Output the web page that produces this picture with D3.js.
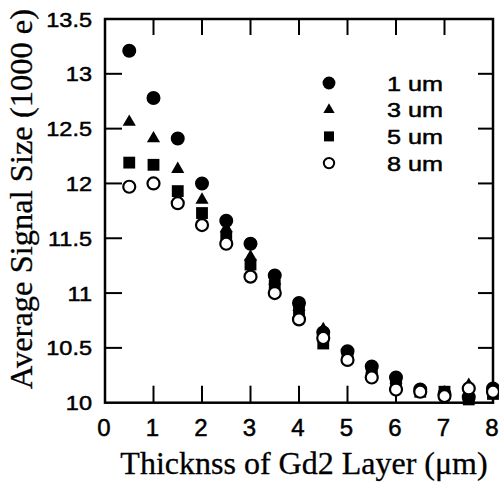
<!DOCTYPE html>
<html><head><meta charset="utf-8">
<script src="https://cdn.jsdelivr.net/npm/d3@7"></script>
<style>body{margin:0;background:#fff}svg{display:block}</style>
</head><body>
<script>
const thickness = [0.5,1,1.5,2,2.5,3,3.5,4,4.5,5,5.5,6,6.5,7,7.5,8];
const s1um = [13.21,12.78,12.41,12.00,11.66,11.45,11.16,10.91,10.64,10.47,10.33,10.23,10.12,10.08,10.05,10.13];
const s3um = [12.56,12.41,12.13,11.85,11.59,11.33,11.11,10.87,10.67,10.44,10.30,10.21,10.11,10.09,10.16,10.11];
const s5um = [12.19,12.17,11.93,11.73,11.51,11.26,11.07,10.84,10.54,10.42,10.28,10.17,10.10,10.10,10.03,10.08];
const s8um = [11.97,12.00,11.82,11.62,11.45,11.15,11.00,10.76,10.59,10.39,10.23,10.12,10.10,10.06,10.13,10.10];
const seriesNames = ["1 um","3 um","5 um","8 um"];
const xTicks = [0,1,2,3,4,5,6,7,8];
const yTicks = [10,10.5,11,11.5,12,12.5,13,13.5];
const yTickLabels = ["10","10.5","11","11.5","12","12.5","13","13.5"];

const W=499,H=483;
const svg=d3.select("body").append("svg").attr("width",W).attr("height",H);
const x=d3.scaleLinear().domain([0,8]).range([105,493]);
const y=d3.scaleLinear().domain([10,13.5]).range([402.7,19]);

const series=[
  {name:seriesNames[0],vals:s1um,type:d3.symbolCircle,size:154,lsize:130,fill:"#000",stroke:"none"},
  {name:seriesNames[1],vals:s3um,type:d3.symbolTriangle,size:75,lsize:55,fill:"#000",stroke:"none"},
  {name:seriesNames[2],vals:s5um,type:d3.symbolSquare,size:140,lsize:100,fill:"#000",stroke:"none"},
  {name:seriesNames[3],vals:s8um,type:d3.symbolCircle,size:113,lsize:85,fill:"#fff",stroke:"#000"}
];

const g=svg.append("g");
g.append("rect").attr("x",x(0)).attr("y",y(13.5)).attr("width",x(8)-x(0)).attr("height",y(10)-y(13.5))
 .attr("fill","none").attr("stroke","#000").attr("stroke-width",2.5);

const inner=yTicks.filter(v=>v>10&&v<13.5);
g.selectAll(".tl").data(inner).join("line").attr("x1",x(0)).attr("x2",x(0)+17).attr("y1",d=>y(d)).attr("y2",d=>y(d)).attr("stroke","#000").attr("stroke-width",2);
g.selectAll(".tr").data(inner).join("line").attr("x1",x(8)).attr("x2",x(8)-15).attr("y1",d=>y(d)).attr("y2",d=>y(d)).attr("stroke","#000").attr("stroke-width",2);
const innerX=xTicks.filter(v=>v>0&&v<8);
g.selectAll(".tb").data(innerX).join("line").attr("x1",d=>x(d)).attr("x2",d=>x(d)).attr("y1",y(10)).attr("y2",y(10)-17).attr("stroke","#000").attr("stroke-width",2);
g.selectAll(".tt").data(innerX).join("line").attr("x1",d=>x(d)).attr("x2",d=>x(d)).attr("y1",y(13.5)).attr("y2",y(13.5)+16).attr("stroke","#000").attr("stroke-width",2);

const sans="Liberation Sans, Arial, sans-serif", serif="Liberation Serif, Times New Roman, serif";
svg.selectAll(".yl").data(yTicks).join("text")
 .attr("transform",d=>`translate(92,${y(d)+7.5}) scale(1.12,1)`)
 .attr("text-anchor","end").attr("font-family",sans).attr("font-size",21)
 .attr("stroke","#000").attr("stroke-width",0.5)
 .text((d,i)=>yTickLabels[i]);
svg.selectAll(".xl").data(xTicks).join("text")
 .attr("x",d=>x(d)-1).attr("y",436).attr("text-anchor","middle")
 .attr("font-family",sans).attr("font-size",24)
 .attr("stroke","#000").attr("stroke-width",0.5)
 .text(d=>d);

svg.append("text").attr("x",304).attr("y",474).attr("text-anchor","middle")
 .attr("font-family",serif).attr("font-size",32)
 .attr("stroke","#000").attr("stroke-width",0.3)
 .text("Thicknss of Gd2 Layer (\u03bcm)");
svg.append("text").attr("transform","translate(32,199) rotate(-90)").attr("text-anchor","middle")
 .attr("font-family",serif).attr("font-size",32.5)
 .attr("stroke","#000").attr("stroke-width",0.3)
 .text("Average Signal Size (1000 e)");

series.forEach(s=>{
  svg.append("g").selectAll("path").data(thickness.map((t,i)=>[t,s.vals[i]])).join("path")
   .attr("transform",d=>`translate(${x(d[0])},${y(d[1])})`)
   .attr("d",d3.symbol().type(s.type).size(s.size))
   .attr("fill",s.fill).attr("stroke",s.stroke).attr("stroke-width",2.2);
});

const lg=svg.append("g");
series.forEach((s,i)=>{
  const yy=83+i*26.7;
  lg.append("path").attr("transform",`translate(329,${yy})`)
   .attr("d",d3.symbol().type(s.type).size(s.lsize))
   .attr("fill",s.fill).attr("stroke",s.stroke).attr("stroke-width",2);
  lg.append("text").attr("transform",`translate(443,${yy+7.5}) scale(1.2,1)`).attr("text-anchor","end")
   .attr("font-family",sans).attr("font-size",21)
   .attr("stroke","#000").attr("stroke-width",0.5)
   .text(s.name);
});
</script>
</body></html>
